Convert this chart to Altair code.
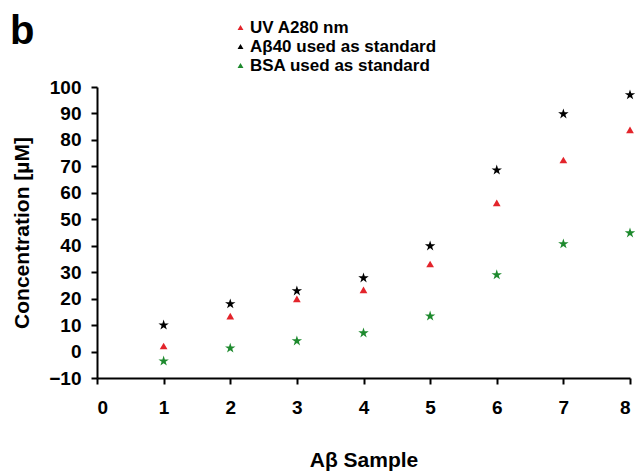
import altair as alt
import pandas as pd

samples = [1, 2, 3, 4, 5, 6, 7, 8]
uv_a280 = [2.1, 13.4, 19.9, 23.3, 33.1, 56.2, 72.4, 83.8]
ab40_std = [10.0, 18.0, 22.9, 27.8, 39.9, 68.6, 89.8, 97.0]
bsa_std = [-3.6, 1.3, 4.0, 7.0, 13.4, 29.0, 40.7, 44.8]

series_names = ["UV A280 nm", "Aβ40 used as standard", "BSA used as standard"]
series_colors = ["#e3242b", "#000000", "#1e8a2e"]
x_ticks = [0, 1, 2, 3, 4, 5, 6, 7, 8]
y_ticks = [-10, 0, 10, 20, 30, 40, 50, 60, 70, 80, 90, 100]

rows = []
for name, vals in zip(series_names, [uv_a280, ab40_std, bsa_std]):
    for s, v in zip(samples, vals):
        rows.append({"sample": s, "conc": v, "series": name})
df = pd.DataFrame(rows)

star = ("M0,-1L0.2245,-0.309L0.951,-0.309L0.363,0.118L0.588,0.809L0,0.382"
        "L-0.588,0.809L-0.363,0.118L-0.951,-0.309L-0.2245,-0.309Z")

FONT = "Liberation Sans"

base = alt.Chart(df).encode(
    x=alt.X("sample:Q",
            scale=alt.Scale(domain=[0, 8], nice=False, zero=False),
            axis=alt.Axis(values=x_ticks, title="Aβ Sample", grid=False,
                          labelPadding=14, titlePadding=32, format="d")),
    y=alt.Y("conc:Q",
            scale=alt.Scale(domain=[-10, 100], nice=False, zero=False),
            axis=alt.Axis(values=y_ticks, title="Concentration [µM]", grid=False,
                          labelPadding=10, titlePadding=16, format="d")),
    color=alt.Color("series:N",
                    scale=alt.Scale(domain=series_names, range=series_colors),
                    legend=alt.Legend(title=None, orient="none", legendX=135, legendY=-68,
                                      symbolType="triangle-up", symbolSize=35,
                                      labelFontSize=17, labelFontWeight="bold",
                                      labelFont=FONT, labelColor="black", labelLimit=0,
                                      rowPadding=1, labelOffset=1)),
)

tri = base.transform_filter(alt.datum.series == series_names[0]).mark_point(
    filled=True, opacity=1, size=60, shape="triangle-up")
stars = base.transform_filter(alt.datum.series != series_names[0]).mark_point(
    filled=True, opacity=1, size=120, shape=star)

chart = alt.layer(tri, stars).properties(
    width=533,
    height=291,
    autosize=alt.AutoSizeParams(type="none"),
    padding={"left": 97, "top": 87, "right": 6, "bottom": 96},
    title=alt.TitleParams("b", anchor="start", frame="group", fontSize=40,
                          fontWeight="bold", font=FONT, color="black",
                          dx=-87, offset=0, dy=65, baseline="alphabetic"),
).configure_view(stroke=None).configure_axis(
    domainColor="black", domainWidth=2, tickColor="black", tickWidth=2, tickSize=6,
    labelFont=FONT, labelFontSize=19, labelFontWeight="bold", labelColor="black",
    titleFont=FONT, titleFontSize=21, titleFontWeight="bold", titleColor="black",
)

chart.save("out.html", embed_options={"renderer": "svg", "actions": False})
